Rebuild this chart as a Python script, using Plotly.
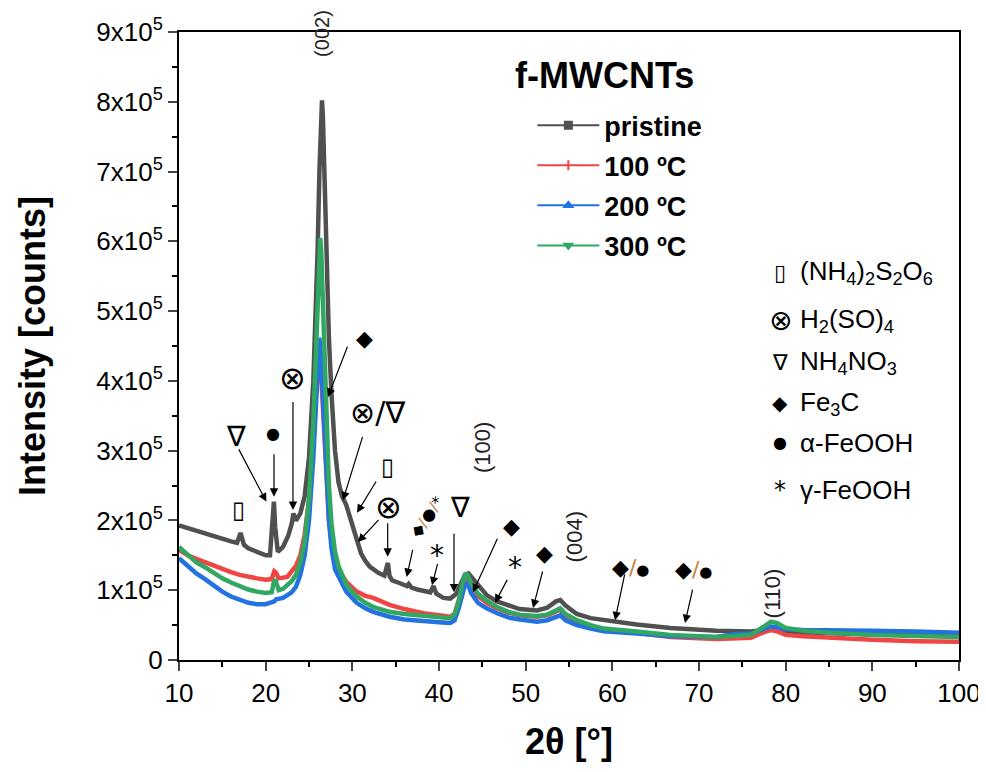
import plotly.graph_objects as go

# ---------------- data (intensity in units of 1e5 counts) ----------------
pristine_2t = [10, 11, 12, 13, 14, 15, 16, 16.7, 17.1, 17.5, 18, 19, 20, 20.5, 20.8, 20.95, 21.1, 21.4,
               22, 22.6, 23.0, 23.2, 23.5, 24.0, 24.5, 25.0, 25.5, 25.8, 26.0, 26.2, 26.4, 26.5, 26.6,
               26.8, 27.0, 27.3, 27.6, 28.0, 28.4, 28.8, 29.3, 29.7, 30.0, 30.5, 31.0, 31.5, 32.0, 33.0,
               33.7, 34.0, 34.1, 34.3, 34.6, 35.5, 36.3, 36.5, 36.8, 37.5, 38.2, 39.0, 39.35, 39.7, 40.5,
               41.3, 42.0, 42.5, 43.0, 43.4, 43.8, 44.7, 45.5, 46.7, 48.0, 49.3, 51.3, 52.5, 53.5, 54.0,
               54.6, 55.9, 57.5, 59.0, 62.8, 66.7, 72.0, 76.0, 78.3, 80, 85, 90, 95, 100]
pristine_i = [1.93, 1.89, 1.85, 1.82, 1.78, 1.74, 1.70, 1.68, 1.82, 1.65, 1.60, 1.55, 1.50, 1.50, 2.00, 2.27, 1.90, 1.55,
              1.62, 1.78, 1.95, 2.10, 2.00, 2.10, 2.35, 2.90, 4.00, 5.00, 5.90, 7.00, 7.90, 8.02, 7.80,
              6.90, 5.80, 4.60, 3.80, 3.00, 2.55, 2.35, 2.22, 2.05, 1.92, 1.70, 1.53, 1.42, 1.34, 1.25,
              1.21, 1.35, 1.39, 1.20, 1.14, 1.10, 1.06, 1.09, 1.04, 1.01, 0.99, 0.97, 1.06, 0.95, 0.89,
              0.88, 0.95, 1.10, 1.22, 1.24, 1.18, 1.03, 0.93, 0.84, 0.78, 0.73, 0.71, 0.75, 0.84, 0.86,
              0.78, 0.66, 0.60, 0.57, 0.51, 0.46, 0.42, 0.41, 0.44, 0.40, 0.38, 0.37, 0.36, 0.35]

t100_2t = [10, 11, 12, 13, 14, 15, 16, 17, 18, 19, 20, 20.7, 21.0, 21.2, 21.5, 22, 22.5, 23, 23.5, 24, 24.5,
           25, 25.5, 25.8, 26.0, 26.2, 26.4, 26.6, 26.8, 27.0, 27.3, 27.6, 28.0, 28.6, 29.3, 30.5, 31.5,
           32.4, 34.3, 36, 38.2, 40, 41.3, 41.8, 42.3, 42.7, 43.0, 43.3, 43.7, 44.5, 45.5, 46.7, 48, 49.3,
           51.3, 52.5, 53.5, 54.0, 54.6, 55.9, 57.5, 59, 62.8, 66.7, 72, 74, 76, 77.5, 78.3, 79, 80, 82,
           85, 90, 95, 100]
t100_i = [1.58, 1.50, 1.45, 1.40, 1.35, 1.30, 1.26, 1.22, 1.19, 1.17, 1.15, 1.16, 1.27, 1.25, 1.17, 1.18, 1.19,
          1.27, 1.35, 1.50, 1.80, 2.30, 3.10, 3.80, 4.20, 4.35, 4.10, 3.60, 3.00, 2.50, 2.00, 1.70, 1.45,
          1.25, 1.12, 0.98, 0.92, 0.89, 0.79, 0.73, 0.67, 0.64, 0.62, 0.66, 0.85, 1.05, 1.15, 1.17, 1.05,
          0.92, 0.82, 0.74, 0.68, 0.64, 0.62, 0.64, 0.70, 0.72, 0.64, 0.55, 0.48, 0.44, 0.39, 0.33, 0.30,
          0.31, 0.32, 0.40, 0.43, 0.41, 0.36, 0.34, 0.32, 0.29, 0.27, 0.26]

t200_2t = [10, 11, 12, 13, 14, 15, 16, 17, 18, 19, 20, 21, 21.2, 22, 23, 23.5, 24, 24.5, 25.0, 25.5, 25.8,
           26.0, 26.2, 26.4, 26.6, 26.8, 27.0, 27.3, 27.6, 28.0, 28.6, 29.3, 30.5, 31.5, 32.4, 34.3, 36,
           38.2, 40, 41.3, 41.8, 42.3, 42.7, 43.0, 43.3, 43.7, 44.5, 45.5, 46.7, 48, 49.3, 51.3, 52.5,
           53.5, 54.0, 54.6, 55.9, 57.5, 59, 62.8, 66.7, 72, 74, 76, 77.5, 78.3, 79, 80, 82, 85, 90, 95, 100]
t200_i = [1.46, 1.35, 1.24, 1.16, 1.06, 0.98, 0.91, 0.86, 0.82, 0.80, 0.80, 0.84, 0.87, 0.89, 0.97, 1.05,
          1.22, 1.50, 2.00, 2.90, 3.70, 4.30, 4.62, 4.30, 3.80, 3.20, 2.60, 2.00, 1.60, 1.30, 1.15, 0.98,
          0.82, 0.74, 0.69, 0.62, 0.58, 0.55, 0.54, 0.53, 0.57, 0.75, 0.98, 1.08, 1.10, 0.96, 0.82, 0.74,
          0.67, 0.61, 0.58, 0.55, 0.57, 0.62, 0.64, 0.57, 0.50, 0.45, 0.41, 0.38, 0.34, 0.33, 0.37, 0.38,
          0.44, 0.48, 0.47, 0.44, 0.43, 0.43, 0.42, 0.41, 0.39]

t300_2t = [10, 11, 12, 13, 14, 15, 16, 17, 18, 19, 20, 20.7, 21.0, 21.2, 21.5, 22, 22.5, 23.0, 23.5, 24.0,
           24.5, 25.0, 25.5, 25.8, 26.0, 26.2, 26.3, 26.4, 26.6, 26.8, 27.0, 27.3, 27.6, 28.0, 28.4,
           29.35, 30.5, 31.5, 32.4, 34.3, 36, 38.2, 40, 41.3, 41.8, 42.3, 42.7, 43.0, 43.3, 43.7, 44.5,
           45.5, 46.7, 48, 49.3, 51.3, 52.5, 53.5, 54.0, 54.6, 55.9, 57.5, 59, 62.8, 66.7, 72.0, 74, 76,
           77.5, 78.3, 79.0, 80, 82, 85, 90, 95, 100]
t300_i = [1.62, 1.50, 1.40, 1.33, 1.25, 1.17, 1.11, 1.06, 1.01, 0.98, 0.96, 0.97, 1.15, 1.12, 1.00, 1.02,
          1.08, 1.13, 1.22, 1.40, 1.70, 2.30, 3.40, 4.40, 5.20, 5.90, 6.05, 5.90, 5.20, 4.30, 3.40, 2.50,
          1.95, 1.55, 1.35, 1.07, 0.91, 0.82, 0.76, 0.69, 0.66, 0.63, 0.61, 0.60, 0.65, 0.85, 1.10, 1.22,
          1.22, 1.10, 0.95, 0.85, 0.76, 0.69, 0.65, 0.63, 0.65, 0.72, 0.74, 0.66, 0.57, 0.50, 0.45, 0.41,
          0.36, 0.33, 0.34, 0.36, 0.48, 0.55, 0.53, 0.46, 0.42, 0.39, 0.36, 0.34, 0.33]

series_names = ["pristine", "100 ºC", "200 ºC", "300 ºC"]
series_colors = ["#505050", "#F04545", "#2272E0", "#30A862"]
legend_symbols = ["square", "line-ns", "triangle-up", "triangle-down"]

x_ticks = [10, 20, 30, 40, 50, 60, 70, 80, 90, 100]
y_ticks = [0, 1e5, 2e5, 3e5, 4e5, 5e5, 6e5, 7e5, 8e5, 9e5]
y_ticktext = ["0"] + [f"{k}x10<sup>5</sup>" for k in range(1, 10)]

SCALE = 1e5
SL = "<span style='color:#C8803A'>/</span>"
DOT = "<span style='font-size:15px'>●</span>"
# peak / phase labels: (text, 2theta, intensity[1e5], size, angle)
phase_labels = [
    ("▯", 16.81, 2.15, 24, 0), ("∇", 16.58, 3.21, 28, 0), ("●", 20.85, 3.25, 16, 0),
    ("⊗", 23.04, 4.04, 32, 0), ("◆", 31.46, 4.61, 22, 0), ("⊗/∇", 33.0, 3.54, 30, 0),
    ("▯", 34.0, 2.77, 24, 0), ("⊗", 34.23, 2.19, 32, 0), ("◆" + SL + "●" + SL + "*", 38.6, 2.06, 16, -55),
    ("*", 39.73, 1.50, 28, 0), ("∇", 42.42, 2.18, 28, 0), ("◆", 48.39, 1.91, 22, 0),
    ("*", 48.77, 1.32, 28, 0), ("◆", 52.23, 1.53, 22, 0), ("◆" + SL + DOT, 62.04, 1.33, 22, 0),
    ("◆" + SL + DOT, 69.42, 1.29, 22, 0),
]
# arrows: (tip 2theta, tip I, tail 2theta, tail I)
arrows = [
    (20.08, 2.27, 16.81, 3.04), (20.96, 2.34, 20.96, 2.97), (23.15, 2.15, 23.15, 3.72),
    (27.19, 3.77, 29.5, 4.51), (28.92, 2.29, 31.23, 3.22), (30.54, 2.11, 32.85, 2.58),
    (30.65, 1.69, 33.19, 2.03), (34.08, 1.48, 34.08, 1.98), (36.27, 1.19, 37.0, 1.60),
    (39.19, 1.07, 39.88, 1.40), (41.73, 0.97, 41.73, 1.83), (43.92, 0.97, 46.81, 1.76),
    (46.46, 0.82, 47.96, 1.17), (50.85, 0.745, 52.0, 1.29), (60.31, 0.57, 61.46, 1.25),
    (68.38, 0.53, 69.3, 1.03),
]
miller = [("(100)", 45.1, 3.04), ("(004)", 55.6, 1.76), ("(110)", 78.5, 0.95)]
miller_top = ("(002)", 26.5, 0.997)  # at the top edge of the frame (paper units)

key_symbols = ["▯", "⊗", "∇", "◆", "●", "*"]
key_sym_size = [22, 28, 22, 20, 16, 24]
key_texts = ["(NH<sub>4</sub>)<sub>2</sub>S<sub>2</sub>O<sub>6</sub>", "H<sub>2</sub>(SO)<sub>4</sub>",
             "NH<sub>4</sub>NO<sub>3</sub>", "Fe<sub>3</sub>C", "α-FeOOH", "γ-FeOOH"]
key_y = [5.56, 4.87, 4.27, 3.68, 3.11, 2.44]

FONT = "Arial, Liberation Sans, sans-serif"

fig = go.Figure()
xs = [pristine_2t, t100_2t, t200_2t, t300_2t]
ys = [pristine_i, t100_i, t200_i, t300_i]
for k in range(4):
    fig.add_trace(go.Scatter(x=xs[k], y=[v * SCALE for v in ys[k]], mode="lines",
                             line=dict(color=series_colors[k], width=4.5),
                             showlegend=False, hoverinfo="skip"))
for k in range(4):
    fig.add_trace(go.Scatter(x=[None], y=[None], mode="lines+markers", name=f"<b>{series_names[k]}</b>",
                             legendgroup=f"g{k}",
                             line=dict(color=series_colors[k], width=2),
                             marker=dict(symbol=legend_symbols[k], size=7, color=series_colors[k],
                                         line=dict(color=series_colors[k], width=2))))

ann = []
for (t, x, y, s, a) in phase_labels:
    ann.append(dict(x=x, y=y * SCALE, text=t, showarrow=False, textangle=a,
                    font=dict(size=s, color="black", family="DejaVu Sans")))
for (x, y, ax, ay) in arrows:
    ann.append(dict(x=x, y=y * SCALE, ax=ax, ay=ay * SCALE, axref="x", ayref="y", text="",
                    showarrow=True, arrowhead=2, arrowsize=1.4, arrowwidth=1.2, arrowcolor="black"))
for (t, x, y) in miller:
    ann.append(dict(x=x, y=y * SCALE, text=t, showarrow=False, textangle=-90,
                    font=dict(size=22, color="#222", family=FONT)))
ann.append(dict(x=miller_top[1], y=miller_top[2], xref="x", yref="paper", text=miller_top[0],
                showarrow=False, textangle=-90, yanchor="middle",
                font=dict(size=20, color="#222", family=FONT)))
for k in range(6):
    ann.append(dict(x=79.4, y=key_y[k] * SCALE, text=key_symbols[k], showarrow=False, xanchor="center",
                    font=dict(size=key_sym_size[k], color="black", family="DejaVu Sans")))
    ann.append(dict(x=81.4, y=key_y[k] * SCALE, text=key_texts[k], showarrow=False, xanchor="left",
                    font=dict(size=26, color="black", family=FONT)))
ann.append(dict(x=0.545, y=0.93, xref="paper", yref="paper", yanchor="middle", text="<b>f-MWCNTs</b>",
                showarrow=False, font=dict(size=36, color="black", family=FONT)))

# the page body adds an 8px offset, so the figure is 16px smaller than the window
fig.update_layout(
    width=970, height=756,
    margin=dict(l=171, r=19, t=24, b=104),
    plot_bgcolor="white", paper_bgcolor="white",
    font=dict(family=FONT, color="black"),
    annotations=ann,
    legend=dict(x=0.453, y=0.89, xanchor="left", yanchor="top", bgcolor="rgba(0,0,0,0)",
                font=dict(size=27, color="black", family=FONT), tracegroupgap=2,
                itemwidth=62),
    xaxis=dict(range=[10, 100], tickvals=x_ticks, ticks="outside", ticklen=9, tickwidth=2,
               showline=True, linecolor="black", linewidth=2, mirror=True, showgrid=False, zeroline=False,
               automargin=False, tickfont=dict(size=26, family=FONT), ticklabeloverflow="allow",
               minor=dict(ticks="outside", dtick=5, ticklen=5, tickwidth=2, tickcolor="black"),
               title=dict(text="<b>2θ [°]</b>", font=dict(size=36, family=FONT), standoff=22)),
    yaxis=dict(range=[0, 9e5], tickvals=y_ticks, ticktext=y_ticktext, ticks="outside", ticklen=9, tickwidth=2,
               showline=True, linecolor="black", linewidth=2, mirror=True, showgrid=False, zeroline=False,
               automargin=False, tickfont=dict(size=26, family=FONT),
               minor=dict(ticks="outside", dtick=0.5e5, ticklen=5, tickwidth=2, tickcolor="black"),
               title=dict(text="<b>Intensity [counts]</b>", font=dict(size=36, family=FONT), standoff=40)),
)
fig.write_html("out.html")
